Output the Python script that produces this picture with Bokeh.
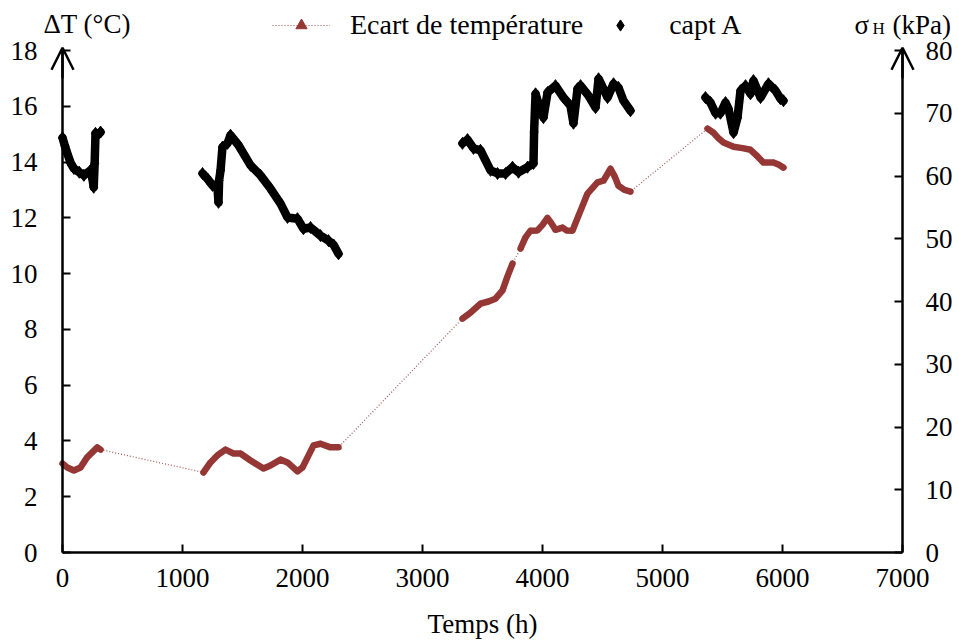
from bokeh.plotting import figure
from bokeh.models import (LinearAxis, Range1d, Label, Arrow, OpenHead, Legend,
                          LegendItem, FixedTicker, ColumnDataSource)
from bokeh.embed import file_html
from bokeh.resources import INLINE

# ---------------- data ----------------
# Ecart de température (°C, left axis)
ecart_t = [0, 40, 95, 150, 205, 290, 317,
           1175, 1233, 1290, 1358, 1425, 1483, 1567, 1675, 1733, 1817, 1875, 1958, 2000, 2092, 2150, 2233, 2300,
           3333, 3400, 3483, 3550, 3608, 3667, 3708, 3750,
           3817, 3858, 3900, 3958, 4000, 4041, 4075, 4108, 4167, 4200, 4250, 4300, 4340, 4375, 4458, 4508,
           4567, 4600, 4633, 4683, 4733,
           5375, 5425, 5467, 5508, 5592, 5667, 5733, 5792, 5842, 5925, 5970, 6008]
ecart_dT = [3.19, 3.05, 2.94, 3.05, 3.41, 3.77, 3.69,
            2.87, 3.23, 3.48, 3.69, 3.55, 3.55, 3.30, 3.01, 3.12, 3.33, 3.23, 2.91, 3.05, 3.84, 3.90, 3.77, 3.77,
            8.39, 8.60, 8.92, 9.00, 9.10, 9.40, 9.90, 10.36,
            10.90, 11.30, 11.54, 11.55, 11.75, 12.00, 11.80, 11.57, 11.65, 11.55, 11.54, 12.08, 12.50, 12.87, 13.27, 13.33,
            13.76, 13.50, 13.15, 13.00, 12.94,
            15.20, 15.05, 14.85, 14.70, 14.55, 14.50, 14.44, 14.20, 13.98, 13.98, 13.90, 13.80]
ecart_seg = [1] * 7 + [2] * 17 + [3] * 8 + [4] * 21 + [5] * 12

# capt A (kPa, right axis)
capt_t = [0, 20, 40, 70, 95, 140, 178, 233, 250, 260, 268, 275, 290, 317,
          1167, 1210, 1250, 1292, 1300, 1305, 1317, 1333, 1375, 1400, 1467, 1567, 1650, 1733, 1817, 1875,
          1958, 2008, 2067, 2150, 2217, 2260, 2300,
          3333, 3375, 3425, 3483, 3525, 3567, 3625, 3692, 3750, 3800, 3875, 3925, 3930, 3942, 3967, 4008,
          4042, 4108, 4175, 4233, 4258, 4292, 4317, 4383, 4442, 4467, 4508, 4542, 4592, 4633, 4675, 4733,
          5358, 5400, 5442, 5483, 5525, 5550, 5592, 5625, 5650, 5692, 5733, 5758, 5817, 5883, 5942, 5983, 6008]
capt_kpa = [66.1, 64.8, 63.6, 62.0, 61.2, 60.6, 60.1, 60.9, 59.5, 58.2, 62.0, 66.8, 66.5, 67.0,
            60.4, 59.5, 58.5, 58.0, 55.8, 59.3, 60.9, 64.6, 65.2, 66.5, 64.9, 61.7, 60.1, 58.0, 55.6, 53.4,
            53.2, 51.6, 51.8, 50.5, 49.7, 49.0, 47.6,
            65.2, 65.8, 64.4, 64.1, 62.5, 60.9, 60.4, 60.4, 61.4, 60.6, 61.4, 62.0, 67.0, 73.1, 71.5, 69.3,
            73.3, 74.4, 72.5, 71.2, 68.4, 73.9, 74.4, 72.8, 70.9, 75.5, 73.9, 72.5, 74.7, 74.1, 72.0, 70.4,
            72.5, 71.7, 70.0, 70.0, 71.7, 70.7, 66.9, 69.3, 73.6, 74.4, 73.1, 75.2, 72.5, 74.7, 73.6, 72.3, 72.0]
capt_seg = [1] * 14 + [2] * 23 + [3] * 32 + [4] * 17

x_ticks = [0, 1000, 2000, 3000, 4000, 5000, 6000, 7000]
dT_ticks = [0, 2, 4, 6, 8, 10, 12, 14, 16, 18]
kpa_ticks = [0, 10, 20, 30, 40, 50, 60, 70, 80]

series_names = ["Ecart de température", "capt A"]

# ---------------- style / layout ----------------
FONT = "Liberation Serif"
FS = "27px"
RED = "#953735"
W, H = 959, 641
AX_L, AX_R, AX_T, AX_B = 62, 902, 50, 552      # pixel positions of the axes
X0, X1, Y0, Y1, K1 = 0, 7000, 0, 18, 80

sx = (AX_R - AX_L) / (X1 - X0)
sy = (AX_B - AX_T) / (Y1 - Y0)
x_range = Range1d(X0 - AX_L / sx, X1 + (W - AX_R) / sx)
y_lo = Y0 - (H - AX_B) / sy
y_hi = Y1 + AX_T / sy
y_range = Range1d(y_lo, y_hi)
k_range = Range1d(y_lo * K1 / Y1, y_hi * K1 / Y1)


def split(xs, ys, seg):
    out_x, out_y = [], []
    cur = None
    for x, y, s in zip(xs, ys, seg):
        if s != cur:
            out_x.append([])
            out_y.append([])
            cur = s
        out_x[-1].append(x)
        out_y[-1].append(y)
    return out_x, out_y


p = figure(width=W, height=H, x_range=x_range, y_range=y_range, title=None,
           output_backend="svg", toolbar_location=None,
           min_border=0, min_border_left=0, min_border_right=0, min_border_top=0, min_border_bottom=0)
p.outline_line_color = None
p.grid.visible = False
p.background_fill_color = "white"
p.border_fill_color = "white"
p.extra_y_ranges = {"kpa": k_range}

right_axis = LinearAxis(y_range_name="kpa")
p.add_layout(right_axis, "right")

xa = p.xaxis[0]
ya = p.yaxis[0]
xa.ticker = FixedTicker(ticks=x_ticks)
ya.ticker = FixedTicker(ticks=dT_ticks)
right_axis.ticker = FixedTicker(ticks=kpa_ticks)
xa.fixed_location = Y0
ya.fixed_location = X0
right_axis.fixed_location = X1
xa.bounds = (X0, X1)
ya.bounds = (Y0, Y1)
right_axis.bounds = (0, K1)

for ax in [xa, ya, right_axis]:
    ax.axis_line_width = 2.5
    ax.axis_line_color = "black"
    ax.major_tick_line_width = 2
    ax.major_tick_line_color = "black"
    ax.major_tick_in = 8
    ax.major_tick_out = 0
    ax.minor_tick_line_color = None
    ax.major_label_text_font = FONT
    ax.major_label_text_font_size = FS
    ax.major_label_text_color = "black"
xa.major_label_standoff = 16
ya.major_label_standoff = 25
right_axis.major_label_standoff = 23

# thin dotted connecting line
src_e = ColumnDataSource(dict(t=ecart_t, v=ecart_dT))
dotted = p.line("t", "v", source=src_e, line_color=RED, line_width=1.2, line_dash="1 2", line_alpha=0.85)
# thick red segments
ex, ey = split(ecart_t, ecart_dT, ecart_seg)
p.multi_line(ex, ey, line_color=RED, line_width=6.5, line_join="round", line_cap="round")
tri = p.scatter("t", "v", source=src_e, marker="triangle", size=5, color=RED)

# black capt A
cx, cy = split(capt_t, capt_kpa, capt_seg)
p.multi_line(cx, cy, line_color="black", line_width=8.5, line_join="round", line_cap="round",
             y_range_name="kpa")
src_c = ColumnDataSource(dict(t=capt_t, v=capt_kpa))
dia = p.scatter("t", "v", source=src_c, marker="diamond", size=12, color="black", y_range_name="kpa")

legend = Legend(items=[LegendItem(label=series_names[0], renderers=[dotted, tri]),
                       LegendItem(label=series_names[1], renderers=[dia])],
                orientation="horizontal", location=(272, H - 41))
legend.label_text_font = FONT
legend.label_text_font_size = "28px"
legend.label_text_color = "black"
legend.glyph_width = 58
legend.glyph_height = 28
legend.label_standoff = 20
legend.spacing = 8
legend.padding = 0
legend.margin = 0
legend.border_line_color = None
legend.background_fill_alpha = 0
p.add_layout(legend)

# arrow heads on vertical axes
for xpos in [X0, X1]:
    p.add_layout(Arrow(end=OpenHead(size=22, line_width=2.5, line_color="black"),
                       x_start=xpos, y_start=Y1 - 1, x_end=xpos, y_end=Y1 + 0.1,
                       line_width=2.5, line_color="black"))

# axis titles
lab = dict(text_font=FONT, text_color="black", text_baseline="alphabetic", text_align="left")
p.add_layout(Label(x=X0, y=Y1, x_offset=-19, y_offset=27, text="ΔT (°C)", text_font_size=FS, **lab))
p.add_layout(Label(x=X1, y=Y1, x_offset=-48, y_offset=26, text="σ", text_font_size=FS, **lab))
p.add_layout(Label(x=X1, y=Y1, x_offset=-30, y_offset=22, text="H", text_font_size="17px", **lab))
p.add_layout(Label(x=X1, y=Y1, x_offset=-10, y_offset=26, text="(kPa)", text_font_size=FS, **lab))
p.add_layout(Label(x=3500, y=Y0, y_offset=-71, text="Temps (h)", text_font_size=FS,
                   text_font=FONT, text_color="black", text_baseline="alphabetic", text_align="center"))

open("out.html", "w").write(file_html(p, INLINE))
